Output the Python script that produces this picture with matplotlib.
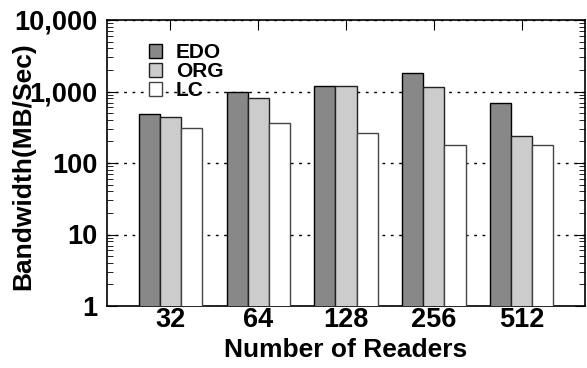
import numpy as np
import matplotlib
matplotlib.use("Agg")
import matplotlib.pyplot as plt
from matplotlib.ticker import FixedLocator, FuncFormatter, LogLocator, NullFormatter

readers = ["32", "64", "128", "256", "512"]
edo = [483, 1000, 1200, 1790, 700]
org = [447, 810, 1200, 1140, 240]
lc = [304, 365, 267, 176, 176]

plt.rcParams['font.family'] = ['Liberation Sans', 'DejaVu Sans']
plt.rcParams['font.weight'] = 'bold'

fig = plt.figure(figsize=(5.87, 3.68), dpi=100)
ax = fig.add_axes([107 / 587, 62 / 368, 478 / 587, 286 / 368])

x = np.arange(len(readers))
w = 0.24
ax.bar(x - w, edo, w, color="#888888", edgecolor="black", linewidth=1, label="EDO", zorder=3)
ax.bar(x, org, w, color="#cccccc", edgecolor="#222222", linewidth=1, label="ORG", zorder=3)
ax.bar(x + w, lc, w, color="white", edgecolor="#444444", linewidth=1, label="LC", zorder=3)

ax.set_yscale("log")
ax.set_ylim(1, 10000)
ax.set_xlim(-0.72, 4.72)
ax.yaxis.set_major_locator(FixedLocator([1, 10, 100, 1000, 10000]))
ax.yaxis.set_major_formatter(FuncFormatter(lambda v, p: "{:,.0f}".format(v)))
ax.yaxis.set_minor_locator(LogLocator(base=10, subs=np.arange(2, 10)))
ax.yaxis.set_minor_formatter(NullFormatter())
ax.set_xticks(x)
ax.set_xticklabels(readers)

ax.tick_params(axis="both", which="both", direction="in", top=True, right=True)
ax.tick_params(axis="y", which="major", length=7, labelsize=19.5, pad=7)
ax.tick_params(axis="y", which="minor", length=4)
ax.tick_params(axis="x", which="major", length=7, labelsize=19.5, pad=1)

ax.yaxis.grid(True, which="major", linestyle=(0, (2, 4)), color="black", linewidth=1, zorder=0)
for s in ax.spines.values():
    s.set_linewidth(1.2)

ax.set_ylabel("Bandwidth(MB/Sec)", fontsize=19, fontweight="bold")
ax.yaxis.set_label_coords(-0.15, 0.49)
ax.set_xlabel("Number of Readers", fontsize=19, fontweight="bold", labelpad=3)

leg = ax.legend(loc="upper left", bbox_to_anchor=(0.087, 0.918), frameon=False,
                fontsize=15, handlelength=0.65, handleheight=0.65,
                handletextpad=0.65, labelspacing=0.0, borderpad=0, borderaxespad=0)

fig.savefig("out.png", dpi=100)
